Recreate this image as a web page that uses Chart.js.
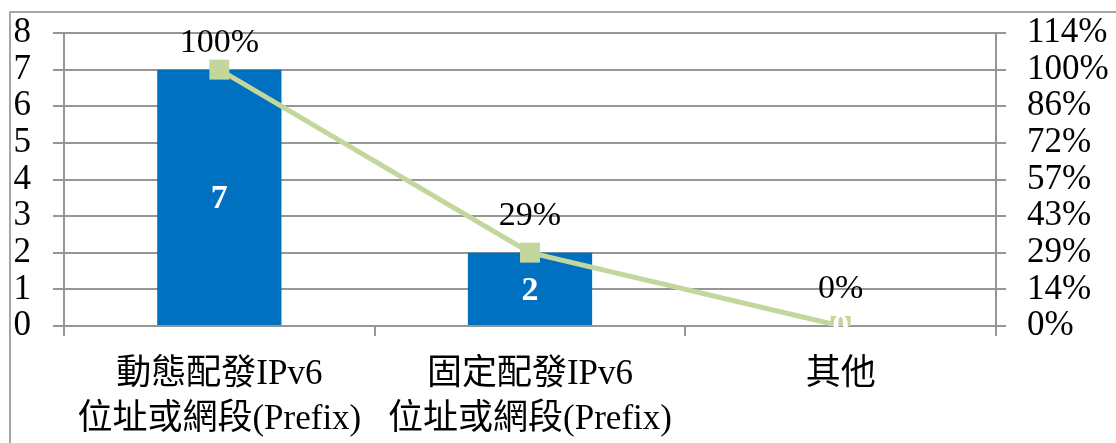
<!DOCTYPE html>
<html>
<head>
<meta charset="utf-8">
<script src="https://cdn.jsdelivr.net/npm/chart.js@4/dist/chart.umd.min.js"></script>
<style>
  html, body { margin: 0; padding: 0; background: #ffffff; }
  canvas { display: block; }
</style>
</head>
<body>
<canvas id="chart" width="1116" height="443"></canvas>
<script>
const categories = [
  ['動態配發IPv6', '位址或網段(Prefix)'],
  ['固定配發IPv6', '位址或網段(Prefix)'],
  ['其他']
];
const counts = [7, 2, 0];
const percents = [1.0, 0.286, 0.0];
const leftTicks = [0, 1, 2, 3, 4, 5, 6, 7, 8];
const rightTickLabels = ['0%', '14%', '29%', '43%', '57%', '72%', '86%', '100%', '114%'];

const FONT = '"Liberation Serif", "Times New Roman", "Noto Sans CJK TC", serif';
const GRID = '#969696';

// grey frame around the chart, cut off on the right and bottom
const framePlugin = {
  id: 'frame',
  beforeDraw(chart) {
    const ctx = chart.ctx;
    ctx.save();
    ctx.strokeStyle = '#a6a6a6';
    ctx.lineWidth = 2;
    ctx.strokeRect(10, 12, 1200, 500);
    ctx.restore();
  }
};

// value labels: white bold counts in bars, percentages above markers
const labelPlugin = {
  id: 'labels',
  afterDatasetsDraw(chart) {
    const ctx = chart.ctx;
    const area = chart.chartArea;
    ctx.save();
    ctx.textAlign = 'center';

    const lineMeta = chart.getDatasetMeta(0);
    ctx.fillStyle = '#000000';
    ctx.font = '34px ' + FONT;
    ctx.textBaseline = 'alphabetic';
    lineMeta.data.forEach((pt, i) => {
      const y = Math.max(pt.y - 28, area.top + 19);
      ctx.fillText(Math.round(percents[i] * 100) + '%', pt.x, y);
    });

    const barMeta = chart.getDatasetMeta(1);
    ctx.fillStyle = '#ffffff';
    ctx.font = 'bold 34px ' + FONT;
    ctx.textBaseline = 'middle';
    barMeta.data.forEach((bar, i) => {
      const mid = (bar.y + bar.base) / 2;
      ctx.fillText(String(counts[i]), bar.x, mid + 2);
    });
    ctx.restore();
  }
};

const noPad = s => { s.paddingTop = 0; s.paddingBottom = 0; };

new Chart(document.getElementById('chart'), {
  data: {
    labels: categories,
    datasets: [
      {
        type: 'line',
        data: percents,
        yAxisID: 'y2',
        order: 0,
        borderColor: '#c3d69b',
        backgroundColor: '#c3d69b',
        borderWidth: 5,
        tension: 0,
        pointStyle: 'rect',
        pointRadius: 14.1,
        pointBorderWidth: 0,
        pointBackgroundColor: '#c3d69b'
      },
      {
        type: 'bar',
        data: counts,
        yAxisID: 'y',
        order: 1,
        backgroundColor: '#0070c0',
        categoryPercentage: 1,
        barPercentage: 0.4
      }
    ]
  },
  options: {
    responsive: false,
    animation: false,
    layout: { padding: { top: 33, left: 0, right: 0, bottom: 0 } },
    plugins: {
      legend: { display: false },
      tooltip: { enabled: false }
    },
    scales: {
      x: {
        afterFit: s => { s.height = 117; s.paddingLeft = 0; s.paddingRight = 0; },
        grid: { drawOnChartArea: false, drawTicks: true, tickLength: 10, color: GRID, lineWidth: 2, offset: true },
        border: { color: GRID, width: 2 },
        ticks: {
          color: '#000000',
          font: { family: FONT, size: 35, lineHeight: 1.29 },
          padding: 16,
          maxRotation: 0,
          autoSkip: false
        }
      },
      y: {
        position: 'left',
        min: 0,
        max: 8,
        afterFit: s => { s.width = 64; noPad(s); },
        afterBuildTicks: s => { s.ticks = leftTicks.map(v => ({ value: v })); },
        grid: { color: GRID, lineWidth: 2, tickLength: 11 },
        border: { color: GRID, width: 2 },
        ticks: {
          color: '#000000',
          font: { family: FONT, size: 35 },
          padding: 22,
          autoSkip: false
        }
      },
      y2: {
        position: 'right',
        min: 0,
        max: 8 / 7,
        afterFit: s => { s.width = 120; noPad(s); },
        afterBuildTicks: s => { s.ticks = rightTickLabels.map((t, i) => ({ value: i / 7 })); },
        grid: { drawOnChartArea: false, color: GRID, lineWidth: 2, tickLength: 10 },
        border: { color: GRID, width: 2 },
        ticks: {
          color: '#000000',
          font: { family: FONT, size: 35 },
          padding: 21,
          autoSkip: false,
          callback: (v, i) => rightTickLabels[i]
        }
      }
    }
  },
  plugins: [framePlugin, labelPlugin]
});
</script>
</body>
</html>
